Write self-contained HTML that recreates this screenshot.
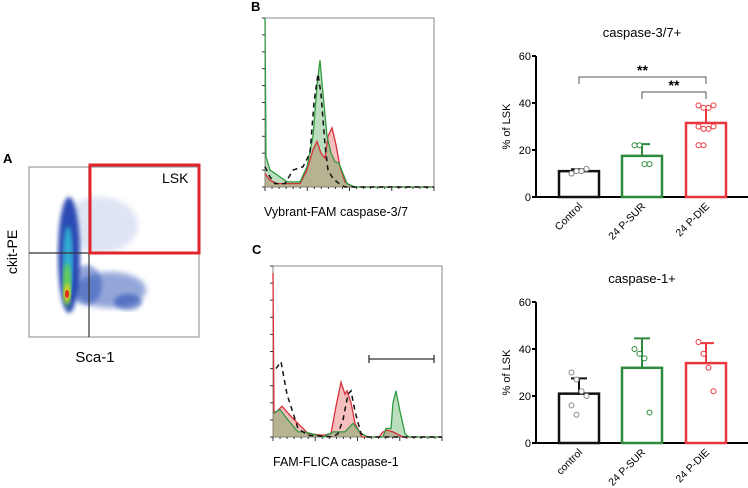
<!DOCTYPE html>
<html><head><meta charset="utf-8"><style>
body{margin:0;background:#fff;}
svg{display:block;font-family:"Liberation Sans",sans-serif;}
</style></head><body>
<svg id="fig" width="748" height="488" viewBox="0 0 748 488" xmlns="http://www.w3.org/2000/svg">
<defs>
<filter id="blur3"><feGaussianBlur stdDeviation="3"/></filter>
<filter id="blur2"><feGaussianBlur stdDeviation="2"/></filter>
</defs>
<g>
<text x="3" y="163" font-size="13" font-weight="bold">A</text>
<rect x="29" y="167" width="170" height="170" fill="#fff" stroke="#888" stroke-width="1"/>
<g>
<ellipse cx="100" cy="225" rx="38" ry="28" fill="#2a4fb5" opacity="0.15" filter="url(#blur3)"/>
<ellipse cx="110" cy="290" rx="36" ry="18" fill="#2a4fb5" opacity="0.5" filter="url(#blur3)"/>
<ellipse cx="128" cy="302" rx="14" ry="8" fill="#2a4fb5" opacity="0.6" filter="url(#blur2)"/>
<ellipse cx="86" cy="285" rx="16" ry="20" fill="#2a4fb5" opacity="0.5" filter="url(#blur2)"/>
<ellipse cx="69" cy="255" rx="11" ry="58" fill="#2343b0" opacity="0.95" filter="url(#blur2)"/>
<ellipse cx="68" cy="262" rx="5" ry="36" fill="#30b8d8" opacity="0.9" filter="url(#blur2)"/>
<ellipse cx="67" cy="285" rx="4" ry="22" fill="#6ad04a" opacity="0.95" filter="url(#blur2)"/>
<ellipse cx="67" cy="293" rx="3" ry="9" fill="#f2d21a" filter="url(#blur2)"/>
<ellipse cx="67" cy="294" rx="2" ry="4" fill="#e0301e"/>
</g>
<line x1="89" y1="167" x2="89" y2="337" stroke="#333" stroke-width="1.2"/>
<line x1="29" y1="253" x2="199" y2="253" stroke="#333" stroke-width="1.2"/>
<rect x="90" y="165" width="109" height="88" fill="none" stroke="#e0262c" stroke-width="3"/>
<text x="162" y="183" font-size="14">LSK</text>
<text x="17" y="252" font-size="14" text-anchor="middle" transform="rotate(-90 17 252)">ckit-PE</text>
<text x="95" y="362" font-size="15" text-anchor="middle">Sca-1</text>
</g>
<text x="251" y="11" font-size="13" font-weight="bold">B</text>
<g id="histB"></g>
<text x="264" y="216" font-size="12.5">Vybrant-FAM caspase-3/7</text>
<text x="252" y="254" font-size="13" font-weight="bold">C</text>
<g id="histC"></g>
<text x="273" y="466" font-size="12.5">FAM-FLICA caspase-1</text>
<g id="bar1"></g>
<g id="bar2"></g>
</svg>
<script>
const NS="http://www.w3.org/2000/svg";
const histBGreen=[[0,100],[1,18],[5,10],[15,6],[22,3],[35,3],[42,12],[48,30],[52,60],[55,75],[58,55],[62,30],[66,20],[70,15],[74,14],[78,8],[82,2],[90,0],[169,0]];
const histBRed=[[0,8],[5,4],[12,2],[20,2],[35,2],[42,10],[48,22],[52,27],[56,20],[60,17],[63,30],[67,35],[71,25],[75,12],[80,3],[88,0],[169,0]];
const histBDash=[[0,12],[5,6],[10,2],[20,2],[28,10],[38,12],[45,20],[49,50],[53,67],[56,55],[60,25],[63,10],[68,5],[74,2],[80,0],[169,0]];
const histCRed=[[0,96],[1,14],[4,15],[9,18],[18,12],[30,5],[35,2],[50,1],[58,2],[63,18],[68,32],[72,25],[74,27],[78,20],[82,8],[89,0],[106,0],[110,3],[114,4],[120,3],[130,0],[169,0]];
const histCGreen=[[0,14],[7,16],[15,10],[25,3],[32,3],[38,2],[50,0],[60,3],[72,3],[80,8],[88,2],[95,0],[110,0],[113,5],[118,5],[120,20],[123,27],[127,15],[132,2],[136,0],[169,0]];
const histCDash=[[3,40],[8,44],[14,25],[25,5],[35,1],[60,0],[65,2],[70,10],[75,25],[78,27],[82,15],[88,2],[95,0],[169,0]];

const barCats1=["Control","24 P-SUR","24 P-DIE"];
const barMeans1=[11,17.5,31.5];
const barErr1=[0.8,5,7];
const barPts1=[[10,11,11,12,10],[22,22,14,14],[39,38,38,39,30,29,29,30,22,22]];
const barCats2=["control","24 P-SUR","24 P-DIE"];
const barMeans2=[21,32,34];
const barErr2=[6.5,12.5,8.5];
const barPts2=[[30,27,22,20,16,12],[40,38,36,13],[43,38,32,22]];
const yTicks=[0,20,40,60];
const colors=["#111","#2e8b3e","#e8383d"];

function el(tag,attrs,parent){const e=document.createElementNS(NS,tag);for(const k in attrs)e.setAttribute(k,attrs[k]);parent.appendChild(e);return e;}

function hist(g,x0,y0,w,h,red,green,dash,lbl){
  const sx=v=>x0+v*w/169, sy=v=>y0+h-v*h/100;
  const fr=el('rect',{x:x0,y:y0,width:w,height:h,fill:"#fff",stroke:"#888","stroke-width":1},g);
  
  
  for(let i=0;i<=10;i++){const t=el('line',{x1:x0-3,x2:x0,y1:y0+h*i/10,y2:y0+h*i/10,stroke:"#333","stroke-width":1},g);
    }
  for(let i=0;i<=24;i++){const len=i%6==0?4:2;const t=el('line',{x1:x0+w*i/24,x2:x0+w*i/24,y1:y0+h,y2:y0+h+len,stroke:"#333","stroke-width":1},g);
    }
  const pts=a=>a.map(p=>sx(p[0])+","+sy(p[1])).join(" ");
  const area=a=>"M"+sx(a[0][0])+","+(y0+h)+" L"+pts(a)+" L"+sx(a[a.length-1][0])+","+(y0+h)+" Z";
  const rf=el('path',{d:area(red),fill:"rgba(232,70,70,0.35)",stroke:"none"},g);
  
  const gf=el('path',{d:area(green),fill:"rgba(60,160,70,0.35)",stroke:"none"},g);
  
  const rl=el('polyline',{points:pts(red),fill:"none",stroke:"#d8303a","stroke-width":1.3},g);
  
  const gl=el('polyline',{points:pts(green),fill:"none",stroke:"#2e9a40","stroke-width":1.3},g);
  
  const dl=el('polyline',{points:pts(dash),fill:"none",stroke:"#111","stroke-width":1.5,"stroke-dasharray":"5,4"},g);
  
}
hist(document.getElementById('histB'),265,18,169,169,histBRed,histBGreen,histBDash,'hist-b');
hist(document.getElementById('histC'),273,266,169,171,histCRed,histCGreen,histCDash,'hist-c');
{const g=document.getElementById('histC');
 const b=el('path',{d:"M369,359 H434 M369,355 V363 M434,355 V363",stroke:"#333","stroke-width":1.3,fill:"none"},g);
 }

function bars(g,title,y0,y60,cats,means,errs,ptsArr,brackets){
  const ax=536, sy=v=>y0-(y0-y60)*v/60;
  const bx=[558,621,685], bw=42;
  const t=el('text',{x:642,y:y60-19,"font-size":13,"text-anchor":"middle"},g);t.textContent=title;
  
  const ya=el('line',{x1:ax,x2:ax,y1:y60,y2:y0,stroke:"#000","stroke-width":2},g);
  
  const xa=el('line',{x1:ax,x2:748,y1:y0,y2:y0,stroke:"#000","stroke-width":2},g);
  
  yTicks.forEach(v=>{
    const tk=el('line',{x1:ax-4,x2:ax,y1:sy(v),y2:sy(v),stroke:"#000","stroke-width":2},g);
    
    const tl=el('text',{x:ax-5,y:sy(v)+4,"font-size":11,"text-anchor":"end"},g);tl.textContent=v;
    
  });
  const yt=el('text',{x:510,y:(y0+y60)/2,"font-size":11,"text-anchor":"middle",transform:`rotate(-90 510 ${(y0+y60)/2})`},g);
  yt.textContent="% of LSK";
  cats.forEach((c,i)=>{
    const cx=bx[i]+bw/2;
    const r=el('rect',{x:bx[i]+1,y:sy(means[i]),width:bw-2,height:y0-sy(means[i]),fill:"none",stroke:colors[i],"stroke-width":2.5},g);
    
    const e=el('path',{d:`M${cx},${sy(means[i])} V${sy(means[i]+errs[i])} M${cx-8},${sy(means[i]+errs[i])} H${cx+8}`,stroke:colors[i],"stroke-width":2,fill:"none"},g);
    
    ptsArr[i].forEach((v,j)=>{
      const off=(j%4-1.5)*5;
      const p=el('circle',{cx:cx+off,cy:sy(v),r:2.5,fill:"#fff",stroke:i==0?"#888":colors[i],"stroke-width":1},g);
      
    });
    const lx=cx+4, ly=y0+10;
    const l=el('text',{x:lx,y:ly,"font-size":10.5,"text-anchor":"end",transform:`rotate(-45 ${lx} ${ly})`},g);l.textContent=c;
    
  });
  brackets.forEach(b=>{
    const x1=bx[b[0]]+bw/2,x2=bx[b[1]]+bw/2,y=b[2];
    const p=el('path',{d:`M${x1},${y+7} V${y} H${x2} V${y+7}`,stroke:"#555","stroke-width":1,fill:"none"},g);
    
    const s=el('text',{x:(x1+x2)/2,y:y-2,"font-size":14,"font-weight":"bold","text-anchor":"middle"},g);s.textContent="**";
    
  });
}
bars(document.getElementById('bar1'),"caspase-3/7+",197,56,barCats1,barMeans1,barErr1,barPts1,[[0,2,77],[1,2,92]]);
bars(document.getElementById('bar2'),"caspase-1+",443,302,barCats2,barMeans2,barErr2,barPts2,[]);
</script>
</body></html>
